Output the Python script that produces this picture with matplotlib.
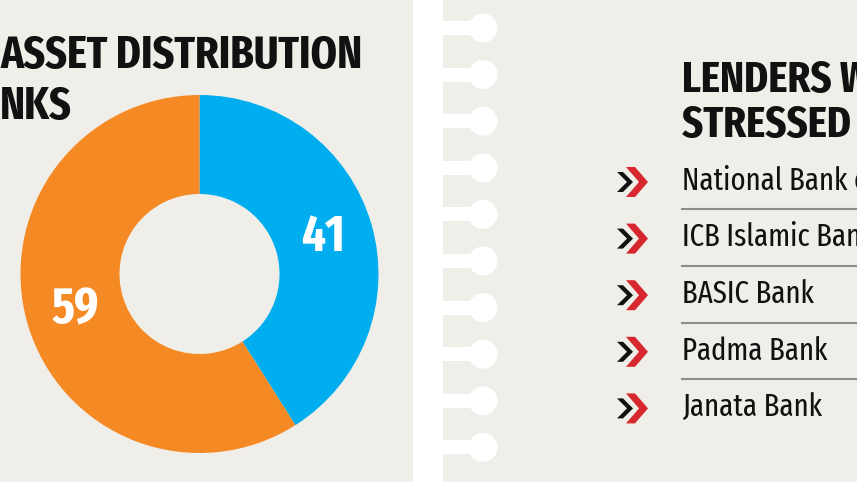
import os
import matplotlib
matplotlib.use("Agg")
import matplotlib.pyplot as plt
from matplotlib import font_manager as fm
from matplotlib.patches import Rectangle, Circle, Polygon

# data
shares = [41, 59]
share_colors = ["#00aeef", "#f58a24"]
left_title = ["ASSET DISTRIBUTION", "NKS"]
right_title = ["LENDERS WITH", "STRESSED ASSETS"]
lenders = ["National Bank of Pakistan", "ICB Islamic Bank", "BASIC Bank",
           "Padma Bank", "Janata Bank"]

W, H = 857, 482
BG = "#f0eee8"
INK = "#111111"


def condensed_font(weight):
    # look for a narrow/condensed face among the installed fonts
    best = None
    for e in fm.fontManager.ttflist:
        fn = os.path.basename(e.fname).lower()
        if e.style != "normal" or "italic" in fn:
            continue
        if not any(k in fn for k in ("condensed", "narrow")):
            continue
        rank = 0 if "extracondensed" in fn else (2 if "semicondensed" in fn else 1)
        score = (rank, abs(int(e.weight) - weight))
        if best is None or score < best[0]:
            best = (score, e.fname)
    if best is None:
        return fm.FontProperties(family="DejaVu Sans",
                                 weight="bold" if weight >= 600 else "normal")
    return fm.FontProperties(fname=best[1])


BOLD = condensed_font(700)
REG = condensed_font(400)

fig = plt.figure(figsize=(W / 100, H / 100), dpi=100)
fig.patch.set_facecolor(BG)
renderer = fig.canvas.get_renderer()


def fit(texts, idx, target):
    # scale a group of texts so that texts[idx] gets the target pixel width
    w = texts[idx].get_window_extent(renderer).width
    for t in texts:
        t.set_fontsize(t.get_fontsize() * target / w)


# full-figure axes in pixel units for the decoration and text
bg = fig.add_axes([0, 0, 1, 1])
bg.set_xlim(0, W)
bg.set_ylim(H, 0)
bg.axis("off")

# white binder strip with rings
bg.add_patch(Rectangle((413, 0), 30, H, color="white", lw=0))
for i in range(10):
    ry = 28 + 46.6 * i
    bg.add_patch(Rectangle((440, ry - 7), 40, 14, color="white", lw=0))
    bg.add_patch(Circle((483, ry), 14.5, color="white", lw=0))

# left title
lt = [bg.text(0, 68 + 51 * i, line, fontproperties=BOLD, fontsize=30,
              color=INK, ha="left", va="baseline")
      for i, line in enumerate(left_title)]
fit(lt, 0, 362)

# right title
rt = [bg.text(682, 92 + 45 * i, line, fontproperties=BOLD, fontsize=25,
              color=INK, ha="left", va="baseline")
      for i, line in enumerate(right_title)]
probe = bg.text(0, 0, "LENDERS", fontproperties=BOLD, fontsize=25)
fit(rt + [probe], 2, 150)
probe.remove()

# lender list
row0, step = 181, 56.6
items = []
for i, name in enumerate(lenders):
    yy = row0 + step * i
    items.append(bg.text(682, yy, name, fontproperties=REG, fontsize=21,
                         color=INK, ha="left", va="center"))
    # double chevron
    cy2 = yy + 1
    bg.add_patch(Polygon([(617, cy2 - 10), (623, cy2 - 10), (633, cy2), (623, cy2 + 10),
                          (617, cy2 + 10), (627, cy2)], color=INK, lw=0))
    bg.add_patch(Polygon([(626, cy2 - 15), (635, cy2 - 15), (648, cy2), (635, cy2 + 15),
                          (626, cy2 + 15), (639, cy2)], color="#d7282f", lw=0))
    if i < len(lenders) - 1:
        sy = yy + step / 2
        bg.plot([682, W], [sy, sy], color="#8c8c8c", lw=1.5)
fit(items, 2, 132)

# donut
cx, cy, r = 199.5, 274, 179
pax = fig.add_axes([(cx - r) / W, (H - cy - r) / H, 2 * r / W, 2 * r / H])
wedges, labels = pax.pie(shares, colors=share_colors, startangle=90,
                         counterclock=False, radius=1,
                         labels=[str(v) for v in shares], labeldistance=0.72,
                         wedgeprops=dict(width=0.553, linewidth=0))
for t in labels:
    t.set_fontproperties(BOLD)
    t.set_color("white")
    t.set_fontsize(30)
    t.set_ha("center")
    t.set_va("center")
fit(labels, 0, 44)
pax.set_xlim(-1, 1)
pax.set_ylim(-1, 1)
pax.set_aspect("equal")
pax.axis("off")

fig.savefig("out.png", dpi=100, facecolor=BG)
